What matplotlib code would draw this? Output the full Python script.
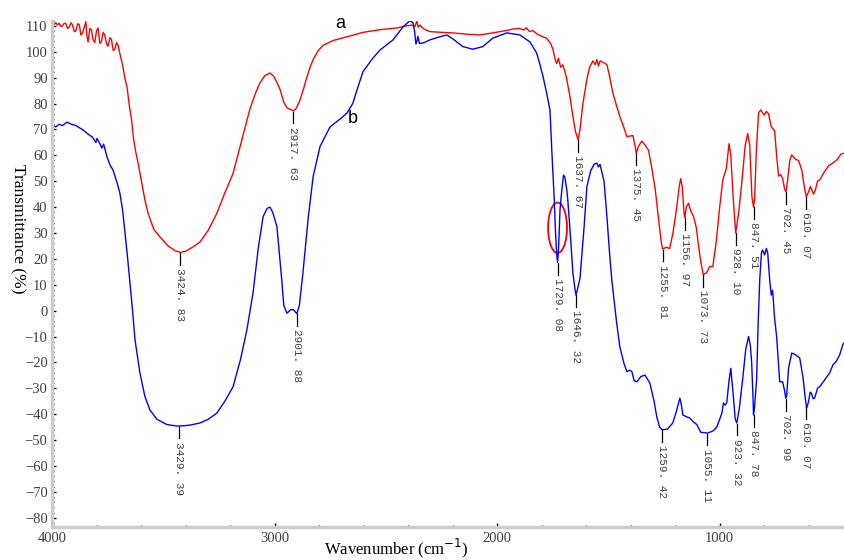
import numpy as np
import matplotlib.pyplot as plt
from matplotlib.patches import Ellipse
from matplotlib.ticker import MultipleLocator

# spectrum a (red)
wn_a = [4000, 3992, 3985, 3978, 3970, 3962, 3955, 3947, 3940, 3932, 3925, 3917, 3910, 3902, 3895,
        3887, 3880, 3872, 3865, 3857, 3850, 3845, 3840, 3832, 3825, 3817, 3810, 3802, 3795, 3787,
        3780, 3772, 3765, 3757, 3750, 3742, 3735, 3727, 3720, 3712, 3705, 3695, 3685, 3675, 3665,
        3655, 3645, 3635, 3625, 3615,
        3600, 3585, 3570, 3545, 3517, 3480, 3450, 3425, 3400, 3370, 3337, 3300, 3261, 3225, 3188,
        3150, 3112, 3085, 3067, 3045, 3022, 3005, 2990, 2977, 2960, 2945, 2932, 2917, 2905, 2887,
        2870, 2856, 2840, 2828, 2805, 2783, 2740, 2676, 2604, 2530, 2451, 2410, 2384, 2370, 2362,
        2355, 2348, 2330, 2303, 2250, 2200, 2140, 2078, 2020, 1960, 1930, 1900, 1880, 1870, 1855,
        1840, 1820, 1800, 1778, 1760, 1750, 1740, 1733, 1725, 1715, 1705, 1690, 1673, 1660, 1648,
        1642, 1637, 1628, 1615, 1597, 1585, 1570, 1560, 1552, 1545, 1538, 1525, 1507, 1495, 1480,
        1465, 1449, 1430, 1417, 1400, 1390, 1380, 1375, 1365, 1350, 1336, 1320, 1305, 1290, 1275,
        1262, 1256, 1240, 1225, 1210, 1193, 1182, 1175, 1168, 1160, 1157, 1150, 1140, 1130, 1118,
        1105, 1095, 1085, 1074, 1060, 1045, 1031, 1015, 1000, 986, 970, 958, 950, 940, 933,
        928, 915, 900, 885, 874, 865, 855, 848, 843, 835, 825, 815, 800, 790, 780,
        768, 753, 742, 735, 725, 717, 708, 702, 695, 685, 676, 660, 645, 630, 618,
        610, 600, 592, 585, 578, 570, 560, 550, 530, 510, 491, 470, 455, 441]
t_a = [111.5, 110.6, 111.2, 110.4, 111.0, 109.8, 110.0, 111.0, 110.9, 109.0, 109.5, 111.2, 110.4, 107.8, 108.0,
       110.8, 110.6, 106.5, 107.2, 109.5, 111.6, 106.0, 103.8, 109.0, 108.5, 104.5, 103.6, 108.0, 109.2, 103.2,
       104.0, 107.5, 106.5, 103.0, 102.2, 105.5, 104.8, 100.5, 101.0, 103.5, 102.5, 98.5, 95.0, 90.0, 86.5,
       79.5, 74.0, 66.0, 61.0, 57.0,
       50.0, 43.0, 37.6, 31.5, 28.5, 25.0, 23.2, 22.5, 23.0, 24.5, 26.5, 31.0, 37.6, 45.5, 53.0,
       65.5, 78.0, 84.5, 88.0, 90.8, 91.8, 90.5, 88.0, 85.5, 80.5, 78.3, 77.8, 77.2, 78.0, 81.4,
       86.0, 90.3, 94.5, 97.0, 100.5, 102.5, 104.3, 105.8, 107.5, 108.5, 109.2, 110.0, 110.3, 109.8, 111.8,
       109.5, 110.3, 108.8, 107.8, 107.5, 107.3, 106.8, 106.5, 107.3, 108.2, 108.8, 109.0, 108.4, 109.3, 107.8,
       108.2, 106.8, 106.0, 105.2, 103.2, 101.0, 97.0, 95.5, 97.5, 94.0, 95.0, 90.5, 82.6, 75.0, 69.0,
       67.5, 66.0, 70.0, 80.0, 89.5, 94.0, 96.5, 95.0, 97.0, 94.5, 96.5, 96.0, 95.0, 90.5, 84.0,
       79.5, 75.0, 70.5, 67.2, 67.5, 67.6, 63.5, 60.8, 63.5, 65.5, 64.0, 62.0, 55.0, 47.0, 35.5,
       26.0, 23.8, 24.5, 24.0, 30.0, 40.0, 48.0, 51.0, 47.5, 37.5, 36.0, 40.0, 41.5, 38.5, 36.5,
       32.0, 25.0, 19.0, 14.0, 14.5, 17.0, 17.0, 27.0, 40.0, 50.5, 55.0, 64.5, 60.0, 44.5, 36.3,
       30.0, 37.5, 50.0, 64.0, 68.5, 64.0, 44.0, 40.0, 43.0, 62.0, 76.5, 77.5, 75.5, 77.0, 76.0,
       71.0, 69.5, 58.0, 52.0, 52.5, 51.0, 47.0, 45.9, 50.0, 58.0, 60.2, 58.5, 58.0, 54.0, 47.0,
       44.0, 46.0, 48.0, 46.5, 45.0, 46.5, 50.0, 50.5, 53.5, 56.0, 57.0, 58.5, 60.5, 60.8]

# spectrum b (blue)
wn_b = [4000, 3985, 3970, 3955, 3935, 3915, 3895, 3863, 3840, 3820, 3805, 3800, 3787, 3778, 3770,
        3755, 3740, 3728, 3710, 3697, 3685, 3674, 3663, 3652, 3640, 3629, 3607, 3585, 3562, 3530,
        3486, 3440, 3413, 3380, 3337, 3300, 3261, 3225, 3188, 3155, 3126, 3098, 3075, 3053, 3035,
        3022, 3010, 2991, 2980, 2969, 2960, 2946, 2930, 2917, 2905, 2901, 2890, 2874, 2850, 2828,
        2797, 2752, 2700, 2676, 2650, 2631, 2604, 2560, 2527, 2469, 2424, 2393, 2379, 2372, 2366,
        2360, 2357, 2350, 2330, 2303, 2258, 2227, 2200, 2155, 2110, 2065, 2020, 1957, 1898, 1853,
        1823, 1808, 1794, 1778, 1763, 1755, 1745, 1738, 1733, 1729, 1724, 1718, 1710, 1702, 1696,
        1688, 1683, 1672, 1660, 1651, 1646, 1640, 1628, 1610, 1597, 1580, 1565, 1552, 1545, 1538,
        1520, 1507, 1495, 1485, 1480, 1463, 1449, 1430, 1417, 1405, 1395, 1385, 1372, 1355, 1336,
        1314, 1295, 1283, 1270, 1259, 1235, 1211, 1195, 1179, 1172, 1166, 1150, 1134, 1118, 1103,
        1085, 1055, 1030, 1013, 998, 990, 983, 975, 968, 958, 950, 941, 930, 923, 912,
        897, 883, 870, 862, 856, 850, 848, 843, 834, 827, 820, 812, 807, 798, 790,
        784, 775, 768, 762, 753, 744, 730, 717, 708, 703, 699, 690, 676, 660, 640,
        625, 615, 609, 600, 593, 587, 580, 573, 560, 550, 530, 518, 505, 491, 475,
        460, 446, 441]
t_b = [71.5, 71.0, 72.0, 71.5, 72.8, 72.0, 71.5, 69.8, 68.2, 67.0, 65.0, 66.5, 64.5, 62.8, 64.3,
       59.4, 56.0, 54.4, 49.5, 45.4, 39.0, 30.0, 21.0, 11.0, 0.0, -11.3, -24.0, -33.0, -38.4, -42.0,
       -44.0, -44.6, -44.5, -44.2, -43.4, -42.0, -39.6, -35.0, -29.4, -19.0, -7.5, 7.0, 24.0, 36.3, 39.5,
       40.0, 38.0, 32.5, 22.0, 11.8, 2.0, -1.0, 0.3, 0.4, -0.8, -1.2, 2.0, 14.5, 36.0, 51.8,
       63.4, 71.0, 74.5, 76.3, 80.0, 85.2, 92.3, 97.5, 100.7, 104.6, 109.6, 112.0, 111.2, 108.0, 103.0,
       104.5, 106.0, 103.2, 103.5, 104.6, 105.8, 106.5, 105.0, 102.0, 101.0, 102.0, 105.3, 107.3, 106.5, 103.8,
       99.5, 95.0, 90.3, 84.0, 77.5, 62.0, 45.0, 30.0, 22.0, 18.5, 25.0, 38.9, 46.5, 52.4, 51.5,
       47.0, 42.8, 30.0, 14.5, 8.5, 6.0, 8.0, 12.5, 32.0, 48.0, 54.0, 56.5, 57.0, 55.5, 56.5,
       50.0, 36.3, 22.0, 11.8, 7.9, -4.9, -14.0, -20.5, -23.6, -23.0, -23.5, -27.0, -27.5, -25.5, -24.9,
       -28.0, -35.0, -41.0, -45.0, -46.0, -45.8, -43.4, -39.0, -33.8, -36.5, -40.3, -41.0, -41.5, -43.0, -44.0,
       -47.0, -47.3, -46.5, -45.0, -41.5, -39.6, -35.7, -36.5, -35.5, -27.0, -22.3, -30.7, -42.0, -43.4, -38.0,
       -26.8, -15.0, -10.0, -13.5, -20.4, -34.0, -40.3, -37.0, -26.8, -5.0, 11.8, 22.5, 23.4, 21.5, 24.0,
       22.3, 11.8, 6.0, 7.9, -3.0, -10.0, -27.5, -27.5, -31.0, -33.8, -33.0, -22.0, -16.4, -17.0, -18.3,
       -26.0, -34.0, -37.7, -35.0, -31.5, -32.0, -34.0, -33.8, -30.0, -29.4, -27.0, -25.5, -24.0, -21.0, -19.5,
       -17.0, -13.0, -12.5]

peaks_a = [3424.83, 2917.63, 1637.67, 1375.45, 1255.81, 1156.97, 1073.73, 928.10, 847.51, 702.45, 610.07]
peaks_b = [3429.39, 2901.88, 1729.08, 1646.32, 1259.42, 1055.11, 923.32, 847.78, 702.99, 610.07]

serif = ['Liberation Serif', 'DejaVu Serif']
tick_gray = '#404040'

fig = plt.figure(figsize=(8.44, 5.6), dpi=100)
ax = fig.add_axes([0.0622, 0.0589, 0.9378, 0.9041])

ax.plot(wn_a, t_a, color='#ff0000', lw=1.0)
ax.plot(wn_b, t_b, color='#0000ff', lw=1.0)


def mark_peaks(wn, t, peaks):
    # tick below each minimum, value written downward under it
    x_asc, y_asc = np.array(wn)[::-1], np.array(t)[::-1]
    for p in peaks:
        y0 = np.interp(p, x_asc, y_asc) - 0.3
        ax.plot([p, p], [y0, y0 - 4.5], color='black', lw=0.9)
        lab = f'{p:.2f}'.replace('.', '. ')
        ax.text(p, y0 - 5.8, lab, rotation=-90, ha='center', va='top',
                family=['Liberation Mono', 'DejaVu Sans Mono'], fontsize=8, color=tick_gray)


mark_peaks(wn_a, t_a, peaks_a)
mark_peaks(wn_b, t_b, peaks_b)

ax.add_patch(Ellipse((1729, 32), 85, 19.5, fill=False, edgecolor='#ff0000', lw=1.3))

ax.text(2707, 111, 'a', fontsize=13, family=['Liberation Sans', 'DejaVu Sans'], ha='center', va='center')
ax.text(2649, 74.4, 'b', fontsize=13, family=['Liberation Sans', 'DejaVu Sans'], ha='center', va='center')

ax.set_xlim(4000, 441)
ax.set_ylim(-83.6, 112)
ax.xaxis.set_major_locator(MultipleLocator(1000))
ax.xaxis.set_minor_locator(MultipleLocator(200))
ax.yaxis.set_major_locator(MultipleLocator(10))
ax.yaxis.set_minor_locator(MultipleLocator(2))
ax.tick_params(which='both', direction='in', color='black', labelcolor=tick_gray, labelsize=10.5)
ax.tick_params(which='major', length=3, width=1)
ax.tick_params(which='minor', length=1.5, width=1)
for lab in ax.get_xticklabels() + ax.get_yticklabels():
    lab.set_family(serif)

for s in ['top', 'right']:
    ax.spines[s].set_visible(False)
for s in ['left', 'bottom']:
    ax.spines[s].set_color('#cccccc')
    ax.spines[s].set_linewidth(2.5)

ax.set_xlabel('Wavenumber (cm$^{-1}$)', family=serif, fontsize=12, va='center')
ax.xaxis.set_label_coords(0.434, -0.042)
ax.set_ylabel('Transmittance (%)', family=serif, fontsize=12.5, rotation=-90, va='center')
ax.yaxis.set_label_coords(-0.044, 0.59)

fig.savefig('out.png', dpi=100)
